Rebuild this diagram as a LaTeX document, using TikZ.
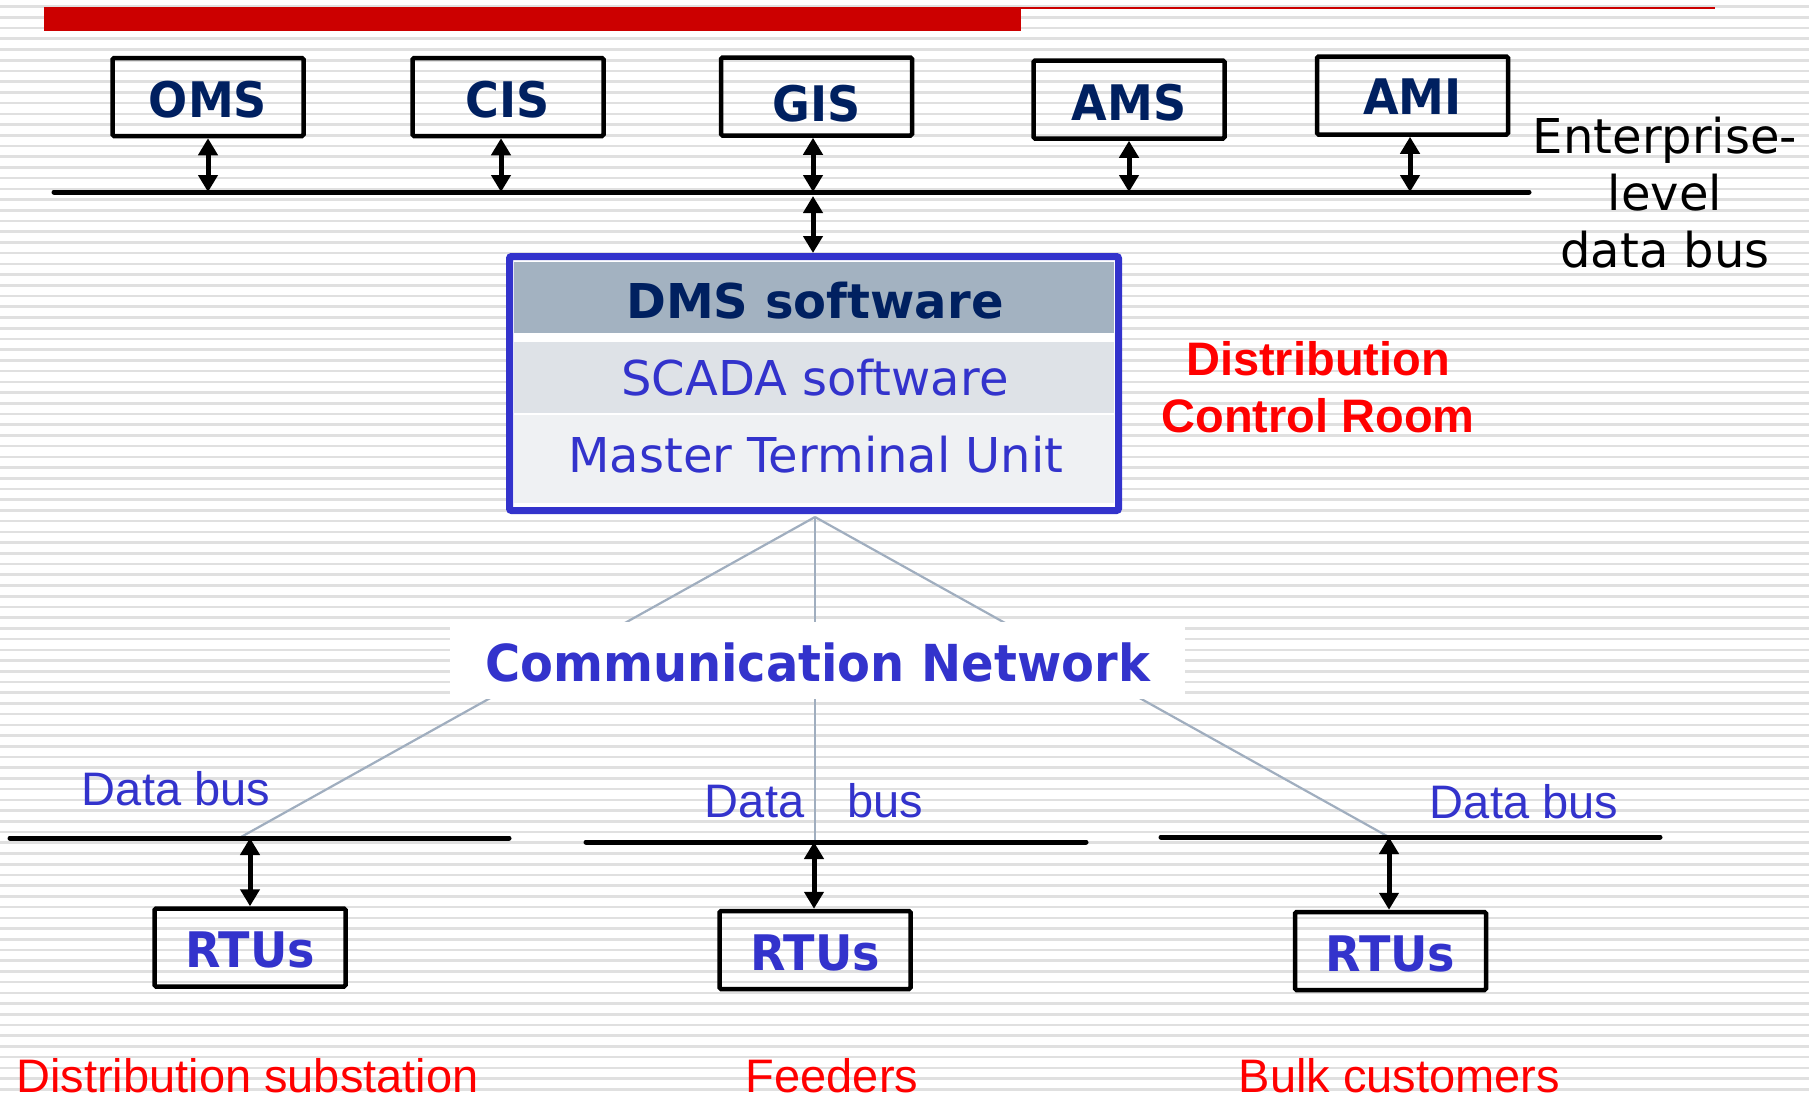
\documentclass[tikz,border=0pt]{standalone}
\usepackage{fontspec}
\usetikzlibrary{arrows.meta}

% Font families: Verdana-like, narrower bold for box captions, Arial-like
\newfontfamily\verdanafont{DejaVu Sans}
\newfontfamily\captionfont{DejaVu Sans}[FakeStretch=0.94]
\newfontfamily\arialfont{Liberation Sans}

\definecolor{navy}{HTML}{002060}
\definecolor{royal}{HTML}{3333CC}
\definecolor{slideRed}{HTML}{CC0000}
\definecolor{pureRed}{HTML}{FF0000}
\definecolor{stripeGray}{HTML}{E0E0E0}
\definecolor{headFill}{HTML}{A3B2C1}
\definecolor{scadaFill}{HTML}{DEE2E7}
\definecolor{mtuFill}{HTML}{EFF1F3}
\definecolor{netLine}{HTML}{A0AEBF}

\begin{document}
\begin{tikzpicture}[x=1pt,y=-1pt,
  stripe/.style={draw=stripeGray, line width=2.6pt},
  sysbox/.style={draw=black, line width=4.5pt, rounded corners=1.5pt,
    minimum width=191pt, minimum height=78pt, inner sep=0pt,
    text height=40pt, text depth=0pt, text=navy,
    font={\captionfont\bfseries\fontsize{49}{58}\selectfont}},
  rtubox/.style={sysbox, text=royal},
  busline/.style={draw=black, line width=5pt, line cap=round},
  biarrow/.style={draw=black, line width=5pt,
    {Triangle[width=19pt,length=17pt]}-{Triangle[width=19pt,length=17pt]}},
  netlink/.style={draw=netLine, line width=2.2pt},
  rowtext/.style={anchor=base, text=royal, inner sep=0pt,
    font={\verdanafont\fontsize{48}{57}\selectfont}},
  buslabel/.style={anchor=base, text=royal, inner sep=0pt,
    font={\arialfont\fontsize{47}{57}\selectfont}},
  sitelabel/.style={anchor=base, text=pureRed, inner sep=0pt,
    font={\arialfont\fontsize{47}{57}\selectfont}}
]
\useasboundingbox (0,0) rectangle (1809,1095);
\fill[white] (0,0) rectangle (1809,1095);

% striped slide background
\foreach \k in {0,...,102} {
  \draw[stripe] (0,{6.6+10.72*\k}) -- (1809,{6.6+10.72*\k});
}

% title rule
\fill[slideRed] (44,7) rectangle (1021,31);
\draw[slideRed, line width=2pt] (1021,8) -- (1715,8);

% enterprise systems
\node[sysbox] (oms) at (208,97) {OMS};
\node[sysbox] (cis) at (508,97) {CIS};
\node[sysbox, text height=49pt] (gis) at (816.5,96.5) {GIS};
\node[sysbox, text height=41pt] (ams) at (1129,99.5) {AMS};
\node[sysbox, text height=37pt] (ami) at (1412.5,95.5) {AMI};

% enterprise-level data bus
\coordinate (ebusW) at (54,192);
\coordinate (ebusE) at (1529,192);
\draw[busline] (ebusW) -- (ebusE);

\coordinate (omsTap) at (oms.south);
\coordinate (cisTap) at ([xshift=-7pt]cis.south);
\coordinate (gisTap) at ([xshift=-3.5pt]gis.south);
\coordinate (amsTap) at (ams.south);
\coordinate (amiTap) at ([xshift=-2.5pt]ami.south);
\foreach \t in {omsTap,cisTap,gisTap,amsTap,amiTap} {
  \draw[biarrow] (\t) -- (\t |- ebusW);
}

% multi-line labels are anchored on the baseline of their last line
\node[anchor=base, align=center, inner sep=0pt,
  font={\verdanafont\fontsize{48}{57}\selectfont}] (entlabel) at (1665,267)
  {Enterprise-\\level\\data bus};

% DMS / SCADA / MTU stack
\fill[white] (513,260) rectangle (1115,507);
\fill[headFill] (514,262) rectangle (1114,333);
\fill[scadaFill] (514,342) rectangle (1114,413);
\fill[mtuFill] (514,415) rectangle (1114,503);
\node[draw=royal, line width=7pt, rounded corners=2pt,
  minimum width=609pt, minimum height=254pt, inner sep=0pt] (dms) at (814,383.5) {};
\node[anchor=base, inner sep=0pt, text=navy,
  font={\verdanafont\bfseries\fontsize{48}{57}\selectfont}] (dmshead) at (815,318) {DMS software};
\node[rowtext] (scada) at (815,395) {SCADA software};
\node[rowtext] (mtu) at (816,472) {Master Terminal Unit};

\coordinate (dmsTop) at ([xshift=-1pt]dms.north);
\draw[biarrow, shorten <=4pt] (dmsTop |- ebusW) -- (dmsTop);

\node[anchor=base, align=center, inner sep=0pt, text=pureRed,
  font={\arialfont\bfseries\fontsize{47}{57}\selectfont}] (ctrlroom) at (1318,432)
  {Distribution\\Control Room};

% field data buses
\coordinate (busAW) at (10,838);   \coordinate (busAE) at (509,838);
\coordinate (busBW) at (586,842);  \coordinate (busBE) at (1086,842);
\coordinate (busCW) at (1161,837); \coordinate (busCE) at (1660,837);
\coordinate (tapA) at (241,837);
\coordinate (tapB) at (815,842);
\coordinate (tapC) at (1387,836);

% communication network links
\coordinate (netHub) at ([xshift=1pt,yshift=-3pt]dms.south);
\draw[netlink] (netHub) -- (tapA);
\draw[netlink] (netHub) -- (tapB);
\draw[netlink] (netHub) -- (tapC);
\node[fill=white, minimum width=735pt, minimum height=77pt, inner sep=0pt,
  text height=41pt, text depth=0pt, text=royal,
  font={\captionfont\bfseries\fontsize{51}{60}\selectfont}] (network) at (817.5,660.5)
  {Communication Network};

\draw[busline] (busAW) -- (busAE);
\draw[busline] (busBW) -- (busBE);
\draw[busline] (busCW) -- (busCE);

\node[buslabel] (dbusA) at (176,805) {Data bus};
\node[buslabel] (dbusB) at (814,817) {Data\hspace*{30pt} bus};
\node[buslabel] (dbusC) at (1524,818) {Data bus};

% remote terminal units
\node[rtubox] (rtuA) at (250,947.5) {RTUs};
\node[rtubox] (rtuB) at (815,950) {RTUs};
\node[rtubox] (rtuC) at (1390.5,951) {RTUs};

\coordinate (rtuATop) at (rtuA.north);
\coordinate (rtuBTop) at ([xshift=-1pt]rtuB.north);
\coordinate (rtuCTop) at ([xshift=-1.5pt]rtuC.north);
\draw[biarrow] (rtuATop |- busAW) -- (rtuATop);
\draw[biarrow] (rtuBTop |- busBW) -- (rtuBTop);
\draw[biarrow] (rtuCTop |- busCW) -- (rtuCTop);

% site captions along the lower edge
\node[sitelabel] (siteA) at (247.5,1092) {Distribution substation};
\node[sitelabel] (siteB) at (832,1092) {Feeders};
\node[sitelabel] (siteC) at (1399.5,1092) {Bulk customers};
\end{tikzpicture}
\end{document}
